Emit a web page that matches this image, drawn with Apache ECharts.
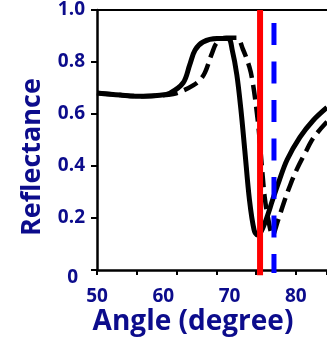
<!DOCTYPE html>
<html>
<head>
<meta charset="utf-8">
<script src="https://cdn.jsdelivr.net/npm/echarts@6/dist/echarts.min.js"></script>
<style>
  html, body { margin: 0; padding: 0; background: #fff; }
  #chart { width: 327px; height: 339px; }
</style>
</head>
<body>
<div id="chart"></div>
<script>
// angle (deg), reflectance
const solidCurve = [
  [50, 0.681], [53.5, 0.673], [57, 0.668], [59.5, 0.672], [61, 0.68], [63.0, 0.72],
  [64.0, 0.79], [64.8, 0.846], [66.0, 0.877], [68.1, 0.89], [69.8, 0.89], [70.4, 0.846],
  [71.1, 0.75], [71.7, 0.62], [72.3, 0.46], [73.0, 0.27], [73.7, 0.154], [74.2, 0.135],
  [74.8, 0.15], [75.6, 0.2], [76.5, 0.27], [77.5, 0.345], [78.7, 0.425], [80.6, 0.51],
  [82.6, 0.575], [84.7, 0.625]
]
const dashedCurve = [
  [50, 0.681], [53.5, 0.673], [57, 0.668], [59.5, 0.671], [61.5, 0.677], [63.0, 0.69],
  [64.5, 0.71], [65.5, 0.73], [66.3, 0.76], [67.3, 0.83], [68.1, 0.875], [69.5, 0.893],
  [71.1, 0.893], [72.0, 0.85], [73.0, 0.78], [73.5, 0.72], [74.0, 0.63], [74.4, 0.54],
  [74.7, 0.45], [75.0, 0.36], [75.3, 0.28], [75.8, 0.2], [76.5, 0.135], [77.3, 0.19],
  [78.2, 0.26], [79.2, 0.33], [80.2, 0.39], [81.4, 0.45], [82.7, 0.51], [84.7, 0.57]
]
const redAngle = 74.6
const blueAngle = 76.7

const navy = '#0c0c8c'
const font = 'Open Sans'
const xMin = 50, xMax = 84.7

const chart = echarts.init(document.getElementById('chart'), null, { renderer: 'canvas' })

chart.setOption({
  animation: false,
  backgroundColor: '#fff',
  grid: { left: 97, top: 10, right: 0, bottom: 69 },
  xAxis: [
    {
      // tick marks
      type: 'value', min: xMin, max: xMax, interval: 6, position: 'bottom',
      axisLine: { lineStyle: { color: '#000', width: 2.5 } },
      axisTick: { show: true, length: 5, lineStyle: { color: '#000', width: 2 } },
      axisLabel: { show: false },
      splitLine: { show: false }
    },
    {
      // labels
      type: 'value', min: xMin, max: xMax, interval: 10, position: 'bottom',
      axisLine: { show: false }, axisTick: { show: false },
      axisLabel: {
        margin: 17, showMaxLabel: false,
        color: navy, fontFamily: font, fontWeight: 'bold', fontSize: 19
      },
      splitLine: { show: false }
    },
    {
      // top frame
      type: 'value', min: xMin, max: xMax, position: 'top',
      axisLine: { show: true, lineStyle: { color: '#000', width: 2 } },
      axisTick: { show: false }, axisLabel: { show: false }, splitLine: { show: false }
    }
  ],
  yAxis: {
    type: 'value', min: 0, max: 1, interval: 0.2,
    axisLine: { show: true, lineStyle: { color: '#000', width: 2.5 } },
    axisTick: { show: true, length: 6, lineStyle: { color: '#000', width: 2 } },
    splitLine: { show: false },
    axisLabel: {
      margin: 12,
      color: navy, fontFamily: font, fontWeight: 'bold', fontSize: 19,
      formatter: v => v === 0 ? '{z|0}' : v.toFixed(1),
      rich: { z: { color: navy, fontFamily: font, fontWeight: 'bold', fontSize: 19, padding: [16, 7, 0, 0] } }
    }
  },
  graphic: [
    {
      type: 'text', x: 32, y: 157, rotation: Math.PI / 2,
      style: { text: 'Reflectance', fill: navy, font: 'bold 27px "Open Sans"', textAlign: 'center', textVerticalAlign: 'middle' }
    },
    {
      type: 'text', x: 193, y: 322,
      style: { text: 'Angle (degree)', fill: navy, font: 'bold 28px "Open Sans"', textAlign: 'center', textVerticalAlign: 'middle' }
    }
  ],
  series: [
    {
      type: 'line', data: dashedCurve, symbol: 'none', smooth: 0.35,
      lineStyle: { color: '#000', width: 4.5, type: [15, 7], join: 'round' }, z: 2
    },
    {
      type: 'line', data: solidCurve, symbol: 'none', smooth: 0.35,
      lineStyle: { color: '#000', width: 5, join: 'round' }, z: 3
    },
    {
      type: 'line', data: [[redAngle, 1.0], [redAngle, -0.02]], symbol: 'none', clip: false,
      lineStyle: { color: '#ff0000', width: 6 }, z: 4
    },
    {
      type: 'line', data: [[blueAngle, 0.95], [blueAngle, -0.012]], symbol: 'none', clip: false,
      lineStyle: { color: '#0000ff', width: 5, type: [22, 16.5] }, z: 4
    }
  ]
})
</script>
</body>
</html>
